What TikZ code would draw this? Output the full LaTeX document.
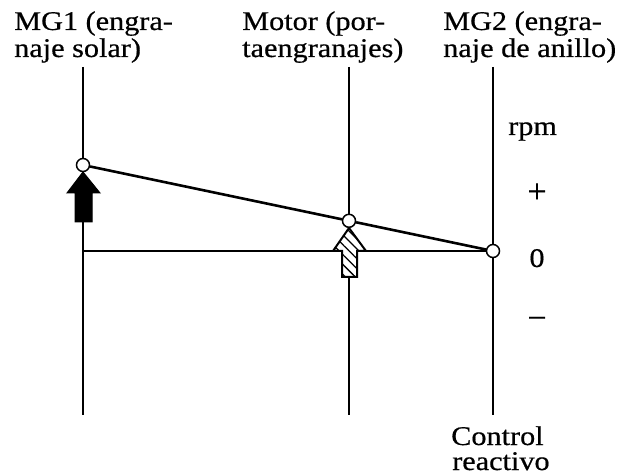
\documentclass[tikz,border=0pt]{standalone}
\usepackage{fontspec}
\setmainfont{Liberation Serif}[FakeBold=0.5]
\newfontfamily\heavyserif{Liberation Serif}[FakeBold=0.5]
\usetikzlibrary{patterns.meta}
\begin{document}
\begin{tikzpicture}[x=1pt,y=-1pt,
  lbl/.style={inner sep=0pt, font=\heavyserif\fontsize{27}{27}\selectfont, xscale=1.12, transform shape},
  sym/.style={inner sep=0pt, font=\heavyserif\fontsize{34}{34}\selectfont},
  axis/.style={line width=1.6pt},
  zero/.style={line width=1.2pt},
  lever/.style={line width=2.6pt},
  dot/.style={circle, draw, line width=1.5pt, fill=white, minimum size=13pt, inner sep=0pt},
  solidarrow/.style={fill=black, draw=black, line width=1pt, line join=miter},
  hatcharrow/.style={draw=black, line width=2pt, line join=miter, fill=white,
    postaction={pattern={Lines[angle=-45, distance=7pt, line width=1.3pt]}}}]
\useasboundingbox (0,0) rectangle (622,476);
% axis end points
\coordinate (t1) at (83,67);  \coordinate (b1) at (83,415);
\coordinate (t2) at (349,67); \coordinate (b2) at (349,415);
\coordinate (t3) at (493,67); \coordinate (b3) at (493,415);
\draw[axis] (t1) -- (b1);
\draw[axis] (t2) -- (b2);
\draw[axis] (t3) -- (b3);
\draw[zero] (83,251) -- (493,251);
% arrows
\path[solidarrow] (83,172) -- (100,193) -- (92,193) -- (92,222) -- (75,222) -- (75,193) -- (67,193) -- cycle;
\path[hatcharrow] (349,228) -- (366,251) -- (357,251) -- (357,277) -- (342,277) -- (342,251) -- (333,251) -- cycle;
% lever
\node[dot] (c1) at (83,165) {};
\node[dot] (c2) at (349,220.8) {};
\node[dot] (c3) at (493,251) {};
\draw[lever] (c1) -- (c2);
\draw[lever] (c2) -- (c3);
% labels
\node[lbl, anchor=base west] (l1a) at (14,30) {MG1 (engra-};
\node[lbl, anchor=base west] (l1b) at (14,57) {naje solar)};
\node[lbl, anchor=base west] (l2a) at (242,30) {Motor (por-};
\node[lbl, anchor=base west] (l2b) at (242,57) {taengranajes)};
\node[lbl, anchor=base west] (l3a) at (443,30) {MG2 (engra-};
\node[lbl, anchor=base west] (l3b) at (443,57) {naje de anillo)};
\node[lbl, anchor=base west] (rpm) at (508,135) {rpm};
\node[sym] (plus) at (537,193) {+};
\node[lbl, anchor=base] (zeroL) at (537,267) {0};
\node[sym] (minus) at (537,323) {−};
\node[lbl, anchor=base west] (ctl) at (451,445) {Control};
\node[lbl, anchor=base west] (rea) at (452,470) {reactivo};
\end{tikzpicture}
\end{document}
